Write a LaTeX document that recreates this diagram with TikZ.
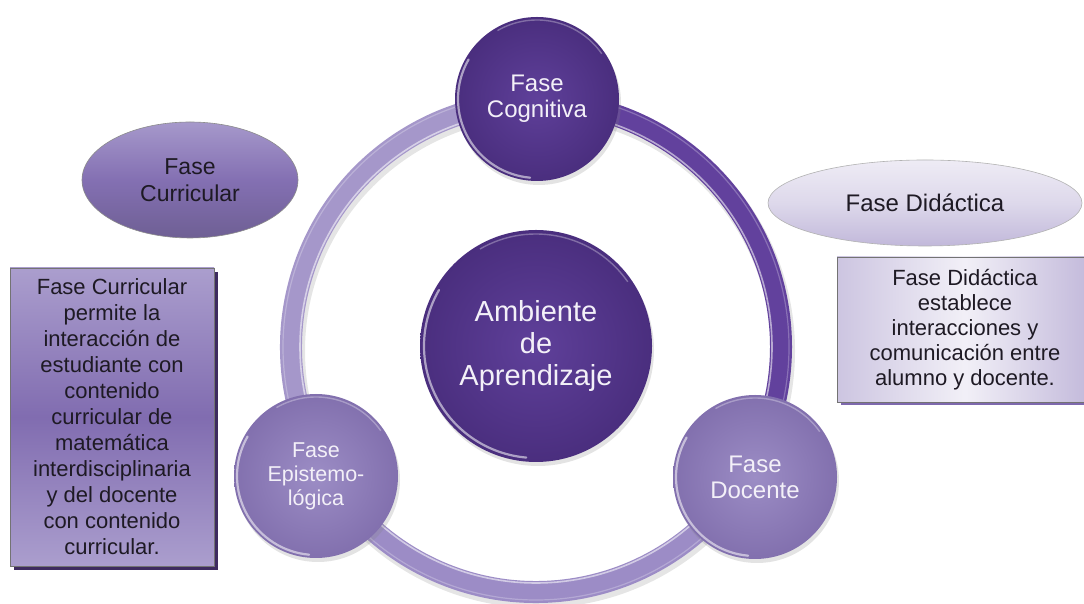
\documentclass[tikz,border=0pt]{standalone}
\usepackage{fontspec}
\setmainfont{Liberation Sans}
\usetikzlibrary{shapes.geometric,shadows,calc}

\definecolor{deepviolet}{HTML}{56378C}
\definecolor{deepvioletout}{HTML}{4A2E7E}
\definecolor{deepvioletin}{HTML}{5F409A}
\definecolor{softviolet}{HTML}{8F7EBC}
\definecolor{softvioletin}{HTML}{9C8DC5}
\definecolor{softvioletout}{HTML}{8270AE}
\definecolor{bandright}{HTML}{62419D}
\definecolor{bandleft}{HTML}{A597CA}
\definecolor{bandbottom}{HTML}{9C8CC6}
\definecolor{lighttext}{HTML}{F3F0F8}
\definecolor{darktext}{HTML}{1E1A24}
\definecolor{boxshadow}{HTML}{3E2B5F}

\tikzset{
  ball/.style={circle, inner sep=0pt, align=center, text=lighttext,
    drop shadow={opacity=0.22, shadow xshift=2pt, shadow yshift=-4pt}},
  darkball/.style={ball, inner color=deepvioletin, outer color=deepvioletout},
  lightball/.style={ball, inner color=softvioletin, outer color=softvioletout},
  band/.style={line width=22pt},
  rim/.style={white, opacity=0.55, line width=2.2pt, line cap=round},
  phaseoval/.style={ellipse, inner sep=0pt, align=center, text=darktext,
    draw=#1, line width=0.6pt},
  notebox/.style={rectangle, inner sep=0pt, align=center, text=darktext,
    draw=black!55, line width=0.5pt},
}

\begin{document}
\begin{tikzpicture}[x=1pt, y=1pt]
\useasboundingbox (0,0) rectangle (1084,604);
\fill[white] (0,0) rectangle (1084,604);

% centre of the cycle
\coordinate (hub) at (536,257);

% soft shadow under the cycle band
\draw[line width=24pt, black, opacity=0.10] ($(hub)+(2,-4)$) circle[radius=245];

% cycle band, one segment per phase
\draw[band, bandright]  ([shift={(90:245)}]hub)  arc[start angle=90,  end angle=-30,  radius=245];
\draw[band, bandbottom] ([shift={(-30:245)}]hub) arc[start angle=-30, end angle=-150, radius=245];
\draw[band, bandleft]   ([shift={(210:245)}]hub) arc[start angle=210, end angle=90,   radius=245];
% glossy edges of the band
\draw[white, opacity=0.55, line width=1.6pt] (hub) circle[radius=236];
\draw[white, opacity=0.25, line width=1.2pt] (hub) circle[radius=253];

% phase circles
\node[darkball, minimum size=164pt, font=\fontsize{24}{26}\selectfont]
  (cog) at (537,505) {Fase\\Cognitiva};
\node[lightball, minimum size=164pt, font=\fontsize{21.5}{24}\selectfont]
  (epi) at (316,128) {Fase\\Epistemo-\\lógica};
\node[lightball, minimum size=164pt, font=\fontsize{24}{26}\selectfont]
  (doc) at (755,127) {Fase\\Docente};
\node[darkball, minimum size=232pt, font=\fontsize{29}{32}\selectfont]
  (amb) at (536,258) {Ambiente\\de\\Aprendizaje};

% gloss on the circles
\foreach \b/\r in {cog/79, epi/79, doc/79, amb/112}{
  \draw[rim] ($(\b.center)+(150:\r)$) arc[start angle=150, end angle=265, radius=\r];
  \draw[white, opacity=0.30, line width=1.4pt] ($(\b.center)+(35:\r)$) arc[start angle=35, end angle=120, radius=\r];
}

% side ovals
\node[phaseoval=black!45, minimum width=216pt, minimum height=116pt,
      top color=softvioletin!90!white, bottom color=softvioletout!85!black,
      middle color=softviolet!80!deepviolet,
      font=\fontsize{23}{27}\selectfont]
  (curE) at (190,424) {Fase\\Curricular};
\node[phaseoval=black!30, minimum width=314pt, minimum height=86pt,
      top color=softviolet!15!white, bottom color=softviolet!55!white,
      middle color=softviolet!30!white,
      font=\fontsize{24}{26}\selectfont]
  (didE) at (925,401) {Fase Didáctica};

% description boxes
\fill[boxshadow] (14,34) rectangle (218,332);
\node[notebox, minimum width=204pt, minimum height=298pt,
      top color=softvioletin!85!white, bottom color=softvioletin!85!white,
      middle color=softviolet!75!deepviolet,
      font=\fontsize{22}{26}\selectfont]
  (curB) at (112,187) {Fase Curricular\\permite la\\interacción de\\estudiante con\\contenido\\curricular de\\matemática\\interdisciplinaria\\y del docente\\con contenido\\curricular.};

\fill[softviolet!70!deepviolet] (841,199) rectangle (1097,343);
\node[notebox, minimum width=256pt, minimum height=145pt,
      left color=softviolet!45!white, right color=softviolet!55!white,
      middle color=softviolet!12!white,
      font=\fontsize{22}{25}\selectfont]
  (didB) at (965,274.5) {Fase Didáctica\\establece\\interacciones y\\comunicación entre\\alumno y docente.};
\end{tikzpicture}
\end{document}
